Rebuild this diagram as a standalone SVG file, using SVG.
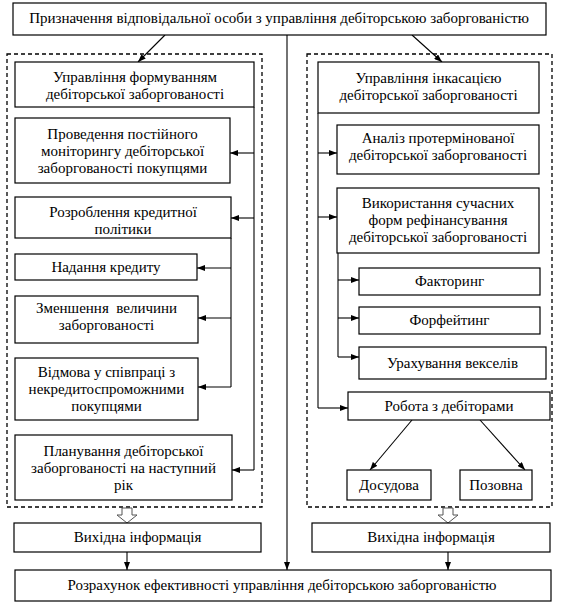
<svg xmlns="http://www.w3.org/2000/svg" width="561" height="609" viewBox="0 0 561 609">
<defs>
<marker id="ah" viewBox="0 0 8 6" refX="8" refY="3" markerWidth="8" markerHeight="6" markerUnits="userSpaceOnUse" orient="auto">
<path d="M0,0 L8,3 L0,6 Z" fill="#000"/>
</marker>
</defs>
<style>
.b{fill:#fff;stroke:#000;stroke-width:1.2}
.d{fill:none;stroke:#000;stroke-width:1.3;stroke-dasharray:4,3}
.c{fill:none;stroke:#000;stroke-width:1.1}
.a{marker-end:url(#ah)}
.h{fill:#fff;stroke:#555;stroke-width:1}
text{font-family:'Liberation Serif','Times New Roman',serif;font-size:15px;fill:#000;text-anchor:middle}
</style>
<rect width="561" height="609" fill="#fff"/>
<g id="groups">
<rect class="d" x="7" y="54" width="255" height="453"/>
<rect class="d" x="307" y="54" width="245" height="453"/>
</g>
<g id="connectors">
<line class="c a" x1="165" y1="35" x2="138" y2="62"/>
<line class="c a" x1="412" y1="35" x2="442" y2="62"/>
<line class="c a" x1="287" y1="35" x2="287" y2="570"/>
<polyline class="c" points="254,107 254,470"/>
<line class="c a" x1="254" y1="153" x2="230" y2="153"/>
<line class="c a" x1="254" y1="218" x2="231" y2="218"/>
<line class="c a" x1="254" y1="470" x2="232" y2="470"/>
<polyline class="c" points="231,238 231,387"/>
<line class="c a" x1="231" y1="268" x2="197" y2="268"/>
<line class="c a" x1="231" y1="318" x2="198" y2="318"/>
<line class="c a" x1="231" y1="387" x2="198" y2="387"/>
<polyline class="c" points="318,113 318,408"/>
<line class="c a" x1="318" y1="153" x2="337" y2="153"/>
<line class="c a" x1="318" y1="217" x2="337" y2="217"/>
<line class="c a" x1="318" y1="408" x2="348" y2="408"/>
<polyline class="c" points="338,253 338,357"/>
<line class="c a" x1="338" y1="280" x2="359" y2="280"/>
<line class="c a" x1="338" y1="318" x2="359" y2="318"/>
<line class="c a" x1="338" y1="357" x2="359" y2="357"/>
<line class="c a" x1="412" y1="420" x2="370" y2="470"/>
<line class="c a" x1="480" y1="420" x2="525" y2="470"/>
<path class="h" d="M122,508 L132,508 L132,515 L137,515 L127,523 L117,515 L122,515 Z"/>
<path class="h" d="M443,508 L453,508 L453,515 L458,515 L448,523 L438,515 L443,515 Z"/>
<line class="c a" x1="127" y1="552" x2="127" y2="570"/>
<line class="c a" x1="448" y1="552" x2="448" y2="570"/>
</g>
<g font-family="Liberation Serif, serif">
<g id="top">
<rect class="b" x="13" y="3" width="533" height="32"/>
<text x="279" y="23">Призначення відповідальної особи з управління дебіторською заборгованістю</text>
</g>
<g id="form">
<rect class="b" x="15" y="62" width="239" height="45"/>
<text x="135" y="82">Управління формуванням</text>
<text x="135" y="99">дебіторської заборгованості</text>
</g>
<g id="monitor">
<rect class="b" x="15" y="118" width="215" height="65"/>
<text x="122.5" y="139">Проведення постійного</text>
<text x="122.5" y="156">моніторингу дебіторської</text>
<text x="122.5" y="173">заборгованості покупцями</text>
</g>
<g id="credpol">
<rect class="b" x="15" y="197" width="216" height="41"/>
<text x="123" y="217">Розроблення кредитної</text>
<text x="123" y="234">політики</text>
</g>
<g id="credit">
<rect class="b" x="15" y="254" width="182" height="26"/>
<text x="106" y="272">Надання кредиту</text>
</g>
<g id="reduce">
<rect class="b" x="15" y="296" width="183" height="47"/>
<text x="106.5" y="313">Зменшення&#160; величини</text>
<text x="106.5" y="330">заборгованості</text>
</g>
<g id="refuse">
<rect class="b" x="15" y="358" width="183" height="62"/>
<text x="106.5" y="377">Відмова у співпраці з</text>
<text x="106.5" y="394">некредитоспроможними</text>
<text x="106.5" y="411">покупцями</text>
</g>
<g id="plan">
<rect class="b" x="15" y="435" width="217" height="65"/>
<text x="123.5" y="456">Планування дебіторської</text>
<text x="123.5" y="473">заборгованості на наступний</text>
<text x="123.5" y="490">рік</text>
</g>
<g id="outL">
<rect class="b" x="14" y="523" width="247" height="29"/>
<text x="137.5" y="542">Вихідна інформація</text>
</g>
<g id="inkas">
<rect class="b" x="318" y="62" width="221" height="51"/>
<text x="428.5" y="83">Управління інкасацією</text>
<text x="428.5" y="100">дебіторської заборгованості</text>
</g>
<g id="analysis">
<rect class="b" x="337" y="125" width="202" height="49"/>
<text x="438" y="143">Аналіз протермінованої</text>
<text x="438" y="160">дебіторської заборгованості</text>
</g>
<g id="refin">
<rect class="b" x="337" y="188" width="202" height="65"/>
<text x="438" y="208">Використання сучасних</text>
<text x="438" y="225">форм рефінансування</text>
<text x="438" y="242">дебіторської заборгованості</text>
</g>
<g id="factoring">
<rect class="b" x="359" y="268" width="181" height="27"/>
<text x="449.5" y="286">Факторинг</text>
</g>
<g id="forfaiting">
<rect class="b" x="359" y="307" width="181" height="27"/>
<text x="449.5" y="325">Форфейтинг</text>
</g>
<g id="bills">
<rect class="b" x="359" y="347" width="187" height="32"/>
<text x="452.5" y="368">Урахування векселів</text>
</g>
<g id="debtors">
<rect class="b" x="348" y="392" width="202" height="28"/>
<text x="449" y="411">Робота з дебіторами</text>
</g>
<g id="pretrial">
<rect class="b" x="347" y="470" width="84" height="30"/>
<text x="389" y="490">Досудова</text>
</g>
<g id="lawsuit">
<rect class="b" x="460" y="470" width="72" height="30"/>
<text x="496" y="490">Позовна</text>
</g>
<g id="outR">
<rect class="b" x="312" y="523" width="238" height="29"/>
<text x="431" y="542">Вихідна інформація</text>
</g>
<g id="bottom">
<rect class="b" x="15" y="570" width="536" height="31"/>
<text x="282" y="590">Розрахунок ефективності управління дебіторською заборгованістю</text>
</g>
</g>
</svg>
